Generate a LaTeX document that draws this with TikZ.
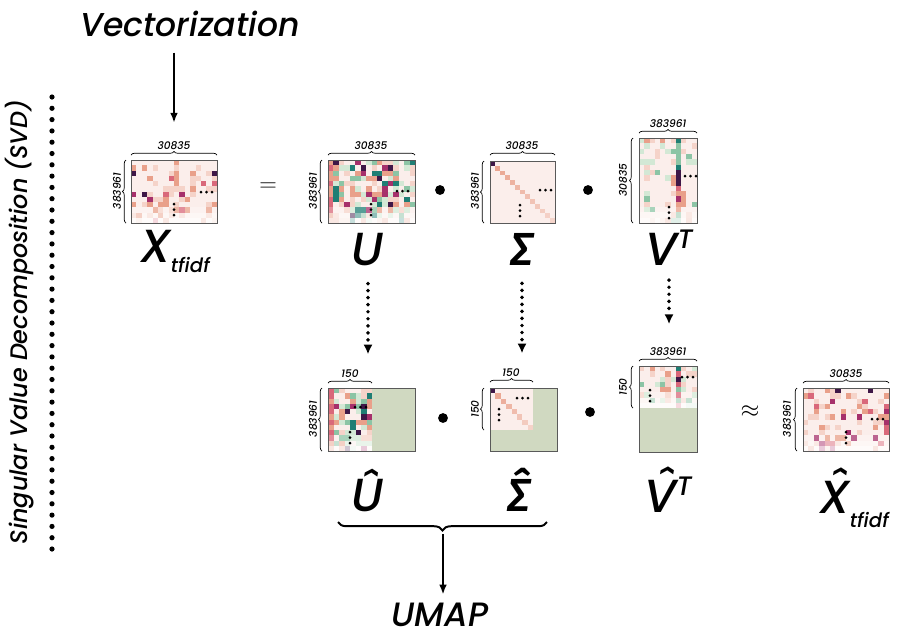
\documentclass[tikz,border=0pt]{standalone}
\usepackage{fontspec}
\setmainfont{Poppins}[UprightFont=* Medium, ItalicFont=* Medium Italic]
\newfontfamily\grk{Fira Sans}[UprightFont=* Medium Italic]
\usetikzlibrary{arrows.meta,decorations.pathreplacing}

\definecolor{hmwhite}{HTML}{FBEEEB}
\definecolor{hmpale}{HTML}{F5D3C9}
\definecolor{hmsalmon}{HTML}{E9A08A}
\definecolor{hmrose}{HTML}{D9687A}
\definecolor{hmmagenta}{HTML}{A6306B}
\definecolor{hmdark}{HTML}{3E1747}
\definecolor{hmmint}{HTML}{D3E8D5}
\definecolor{hmgreen}{HTML}{8CC4A5}
\definecolor{hmteal}{HTML}{1F7E74}
\definecolor{trunc}{HTML}{D0D9C1}

% colour pickers, read \rv (0..99) and \i, set \hc
\newcommand{\pickX}{\ifnum\rv<62 \def\hc{hmwhite}\else\ifnum\rv<76 \def\hc{hmpale}\else\ifnum\rv<88 \def\hc{hmsalmon}\else\ifnum\rv<93 \def\hc{hmrose}\else\ifnum\rv<97 \def\hc{hmmagenta}\else\def\hc{hmdark}\fi\fi\fi\fi\fi}
\newcommand{\pickU}{\ifnum\i=1 \ifnum\rv<50 \def\hc{hmrose}\else\def\hc{hmsalmon}\fi
  \else\ifnum\rv<30 \def\hc{hmwhite}\else\ifnum\rv<46 \def\hc{hmpale}\else\ifnum\rv<59 \def\hc{hmsalmon}\else\ifnum\rv<75 \def\hc{hmmint}\else\ifnum\rv<84 \def\hc{hmgreen}\else\ifnum\rv<90 \def\hc{hmteal}\else\ifnum\rv<96 \def\hc{hmmagenta}\else\def\hc{hmdark}\fi\fi\fi\fi\fi\fi\fi\fi}
\newcommand{\pickV}{\ifnum\i=8 \ifnum\rv<25 \def\hc{hmrose}\else\ifnum\rv<45 \def\hc{hmteal}\else\ifnum\rv<60 \def\hc{hmmagenta}\else\ifnum\rv<75 \def\hc{hmsalmon}\else\ifnum\rv<88 \def\hc{hmgreen}\else\def\hc{hmdark}\fi\fi\fi\fi\fi
  \else\ifnum\rv<64 \def\hc{hmwhite}\else\ifnum\rv<78 \def\hc{hmpale}\else\ifnum\rv<90 \def\hc{hmmint}\else\ifnum\rv<96 \def\hc{hmsalmon}\else\def\hc{hmgreen}\fi\fi\fi\fi\fi}

% #1 picker, #2 x0, #3 y0, #4 width, #5 height, #6 cols, #7 rows
\newcommand{\heatmap}[7]{%
  \pgfmathsetmacro{\cw}{#4/#6}\pgfmathsetmacro{\ch}{#5/#7}%
  \foreach \i in {1,...,#6}{\foreach \j in {1,...,#7}{%
    \pgfmathrandominteger{\rv}{0}{99}#1%
    \pgfmathtruncatemacro{\hm}{\j>#7-3 ? 100-(\j-#7+3)*25 : 100}%
    \fill[\hc!\hm!white] ({#2+(\i-1)*\cw},{#3+(\j-1)*\ch}) rectangle ++({\cw+0.3},{\ch+0.3});
  }}}
% #1 x0, #2 y0, #3 width, #4 height, #5 cells on the diagonal
\newcommand{\diagmap}[5]{%
  \pgfmathsetmacro{\cw}{#3/#5}\pgfmathsetmacro{\ch}{#4/#5}%
  \fill[hmwhite] (#1,#2) rectangle ++(#3,#4);
  \foreach \k in {1,...,#5}{%
    \pgfmathtruncatemacro{\hm}{100-(\k-1)*60/#5}%
    \fill[hmsalmon!\hm!white] ({#1+(\k-1)*\cw},{#2+(\k-1)*\ch}) rectangle ++(\cw,\ch);}
  \fill[hmdark] (#1,#2) rectangle ++(\cw,\ch);}
\newcommand{\rowdots}[2]{\foreach \d in {0,1,2}\fill ({#1+\d*5.5},#2) circle (1.5);}
\newcommand{\coldots}[2]{\foreach \d in {0,1,2}\fill (#1,{#2+\d*5.5}) circle (1.5);}
% circumflex over a capital
\newcommand{\caphat}[2]{\rlap{\hspace{#2}\raisebox{6.6pt}{ˆ}}#1}

\begin{document}
\begin{tikzpicture}[x=0.025cm,y=-0.025cm,
  mbox/.style={draw=black!65, line width=0.6pt},
  brc/.style={decorate, decoration={brace, amplitude=2.5pt}, line width=0.5pt},
  dimlab/.style={font=\fontsize{7.5}{8}\selectfont\itshape, inner sep=0pt},
  biglab/.style={font=\fontsize{33}{36}\selectfont\itshape, inner sep=0pt, anchor=base},
  bul/.style={circle, fill=black, minimum size=7pt, inner sep=0pt},
  arr/.style={-{Latex[length=7pt,width=5.5pt]}, line width=1.2pt},
  dotarr/.style={-{Latex[length=7pt,width=6.5pt]}, line width=2.8pt, line cap=round, dash pattern=on 0pt off 5pt}]
\useasboundingbox (0,0) rectangle (901,641);
\pgfmathsetseed{7}

\node[font=\fontsize{23.5}{25}\selectfont\itshape, inner sep=0pt] (vec) at (190,24) {Vectorization};
\node[font=\fontsize{17}{19}\selectfont\itshape, inner sep=0pt, rotate=90] (svd) at (20,322) {Singular Value Decomposition (SVD)};
\foreach \k in {0,...,40} \fill (52,{97+\k*11.3}) circle (2.6);

% full decomposition
\heatmap{\pickX}{131}{160}{86}{63}{16}{12}
\heatmap{\pickU}{328}{160}{87}{63}{16}{12}
\diagmap{490}{161}{65}{62}{13}
\heatmap{\pickV}{639}{138}{58}{85}{11}{16}
\draw[mbox] (131,160) rectangle (217,223);
\draw[mbox] (328,160) rectangle (415,223);
\draw[mbox] (490,161) rectangle (555,223);
\draw[mbox] (639,138) rectangle (697,223);
\rowdots{201}{192}\coldots{174}{204}
\rowdots{397}{191}\coldots{371}{204}
\rowdots{540}{190}\coldots{520}{205}
\rowdots{685}{176}\coldots{669}{207}

\draw[brc] (131,155) -- (217,155); \node[dimlab] (Xc) at (174,146) {30835};
\draw[brc] (126,223) -- (126,160); \node[dimlab, rotate=90] (Xr) at (117,191) {383961};
\draw[brc] (328,155) -- (415,155); \node[dimlab] (Uc) at (371,146) {30835};
\draw[brc] (322,223) -- (322,160); \node[dimlab, rotate=90] (Ur) at (313,191) {383961};
\draw[brc] (490,155) -- (555,155); \node[dimlab] (Sc) at (522,146) {30835};
\draw[brc] (484,223) -- (484,161); \node[dimlab, rotate=90] (Sr) at (475,191) {383961};
\draw[brc] (639,133) -- (697,133); \node[dimlab] (Vc) at (668,124) {383961};
\draw[brc] (633,223) -- (633,138); \node[dimlab, rotate=90] (Vr) at (623,180) {30835};

\node[biglab] (X) at (175,262) {X\raisebox{-7.8pt}{\fontsize{14}{14}\selectfont tfidf}};
\node[font=\fontsize{17}{17}\selectfont] (eq) at (268,187) {$=$};
\node[biglab] (U) at (368,265) {U};
\node[bul] (b1) at (440,190) {};
\node[biglab, font=\fontsize{33}{36}\selectfont\grk] (S) at (522,265) {Σ};
\node[bul] (b2) at (588,190) {};
\node[biglab] (V) at (669,265) {V\raisebox{12pt}{\fontsize{19}{19}\selectfont T}};

% truncated
\fill[trunc] (328,388) rectangle (415,451);
\heatmap{\pickU}{328}{388}{44}{63}{8}{12}
\fill[trunc] (490,388) rectangle (557,451);
\diagmap{490}{388}{43}{42}{8}
\fill[trunc] (639,366) rectangle (697,452);
\heatmap{\pickV}{639}{366}{58}{42}{11}{8}
\heatmap{\pickX}{803}{388}{86}{63}{16}{12}
\draw[mbox] (328,388) rectangle (415,451);
\draw[mbox] (490,388) rectangle (557,451);
\draw[mbox] (639,366) rectangle (697,452);
\draw[mbox] (803,388) rectangle (889,451);
\rowdots{355}{407}\coldots{350}{432}
\rowdots{517}{398}\coldots{499}{409}
\rowdots{682}{377}\coldots{650}{390}
\rowdots{872}{419}\coldots{846}{432}

\draw[brc] (328,383) -- (372,383); \node[dimlab] (Uhc) at (350,374) {150};
\draw[brc] (322,451) -- (322,388); \node[dimlab, rotate=90] (Uhr) at (313,419) {383961};
\draw[brc] (490,382) -- (533,382); \node[dimlab] (Shc) at (511,373) {150};
\draw[brc] (484,430) -- (484,388); \node[dimlab, rotate=90] (Shr) at (475,409) {150};
\draw[brc] (639,361) -- (697,361); \node[dimlab] (Vhc) at (668,352) {383961};
\draw[brc] (633,408) -- (633,366); \node[dimlab, rotate=90] (Vhr) at (623,387) {150};
\draw[brc] (803,383) -- (889,383); \node[dimlab] (Xhc) at (846,374) {30835};
\draw[brc] (797,451) -- (797,388); \node[dimlab, rotate=90] (Xhr) at (787,419) {383961};

\node[biglab] (Uh) at (368,511) {Û};
\node[bul] (b3) at (443,418) {};
\node[biglab, font=\fontsize{33}{36}\selectfont\grk] (Sh) at (519,511) {Σ^^^^0302};
\node[bul] (b4) at (590,412) {};
\node[biglab] (Vh) at (668,512) {\caphat{V}{9pt}\raisebox{12pt}{\fontsize{19}{19}\selectfont T}};
\node[font=\fontsize{17}{17}\selectfont] (apx) at (750,412) {$\approx$};
\node[biglab] (Xh) at (854,513) {\caphat{X}{8pt}\raisebox{-10pt}{\fontsize{14}{14}\selectfont tfidf}};

\draw[decorate, decoration={brace, amplitude=6pt}, line width=1.4pt] (547,522) -- (338,522);
\coordinate (brtip) at (443,534);
\node[font=\fontsize{24}{26}\selectfont\itshape, inner sep=0pt] (umap) at (440,615) {UMAP};

% connectors
\draw[arr, shorten <=11pt, shorten >=13.5pt] (vec.south -| Xc) -- (Xc);
\draw[dotarr, shorten <=12.8pt, shorten >=11pt] (U.south) -- (U.south |- Uhc.north);
\draw[dotarr, shorten <=12.8pt, shorten >=11pt] (S.south) -- (S.south |- Shc.north);
\draw[dotarr, shorten <=10.6pt, shorten >=16.7pt] (V.south) -- (V.south |- Vhc.north);
\draw[arr, shorten >=6pt] (brtip) -- (brtip |- umap.north);
\end{tikzpicture}
\end{document}
